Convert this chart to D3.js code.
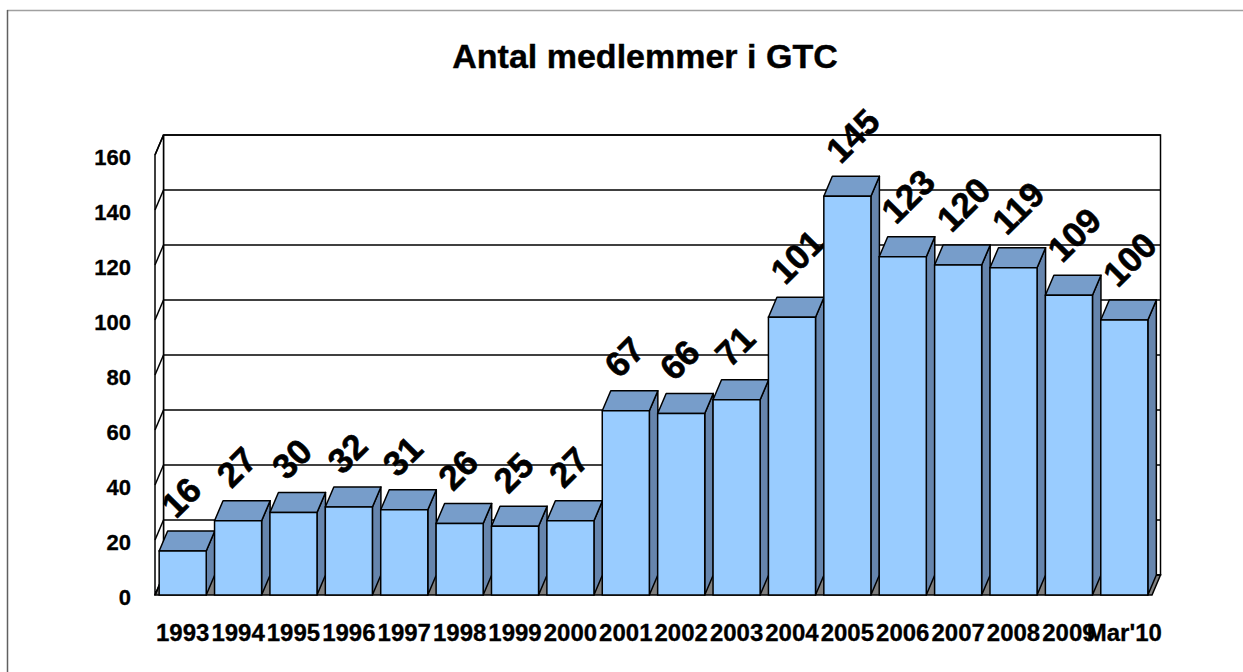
<!DOCTYPE html>
<html>
<head>
<meta charset="utf-8">
<style>
body { margin: 0; background: #fff; }
text { font-family: "Liberation Sans", Arial, sans-serif; font-weight: bold; }
</style>
</head>
<body>
<svg width="1243" height="672"></svg>
<script src="https://d3js.org/d3.v7.min.js"></script>
<script>
var categories = ["1993","1994","1995","1996","1997","1998","1999","2000","2001","2002","2003","2004","2005","2006","2007","2008","2009","Mar'10"];
var members = [16, 27, 30, 32, 31, 26, 25, 27, 67, 66, 71, 101, 145, 123, 120, 119, 109, 100];
var yTicks = [0, 20, 40, 60, 80, 100, 120, 140, 160];

var svg = d3.select("svg");

// depth offset of the 3d look
var dx = 8.5, dy = -20;

var x = d3.scaleBand()
    .domain(categories)
    .range([155, 1152])
    .paddingInner(0.15)
    .paddingOuter(0.075);

var y = d3.scaleLinear()
    .domain([0, 160])
    .range([595, 155]);

var x0 = x.range()[0], x1 = x.range()[1];

// outer frame (only top and left visible)
svg.append("line").attr("x1", 7).attr("x2", 1243).attr("y1", 10.5).attr("y2", 10.5)
    .attr("stroke", "#a0a0a0").attr("stroke-width", 1.5);
svg.append("line").attr("x1", 7.5).attr("x2", 7.5).attr("y1", 10).attr("y2", 672)
    .attr("stroke", "#606060").attr("stroke-width", 1.5);

// title
svg.append("text")
    .attr("x", 645).attr("y", 68)
    .attr("text-anchor", "middle")
    .style("font-size", "34px")
    .attr("stroke", "#000").attr("stroke-width", 0.4)
    .text("Antal medlemmer i GTC");

var walls = svg.append("g");

// back wall
walls.append("rect")
    .attr("x", x0 + dx).attr("y", y(160) + dy)
    .attr("width", x1 - x0).attr("height", y(0) - y(160))
    .attr("fill", "#fff").attr("stroke", "#000").attr("stroke-width", 1.5);

// floor
walls.append("path")
    .attr("d", "M" + x0 + "," + y(0) + "L" + x1 + "," + y(0) +
               "L" + (x1 + dx) + "," + (y(0) + dy) + "L" + (x0 + dx) + "," + (y(0) + dy) + "Z")
    .attr("fill", "#808080").attr("stroke", "#000").attr("stroke-width", 1.5);

// left side wall
walls.append("path")
    .attr("d", "M" + x0 + "," + y(0) + "L" + x0 + "," + y(160) +
               "L" + (x0 + dx) + "," + (y(160) + dy) + "L" + (x0 + dx) + "," + (y(0) + dy) + "Z")
    .attr("fill", "#fff").attr("stroke", "#000").attr("stroke-width", 1.5);

// gridlines on back wall and left wall
yTicks.forEach(function(t) {
  walls.append("line")
      .attr("x1", x0 + dx).attr("x2", x1 + dx)
      .attr("y1", y(t) + dy).attr("y2", y(t) + dy)
      .attr("stroke", "#000").attr("stroke-width", 1.5);
  walls.append("line")
      .attr("x1", x0).attr("x2", x0 + dx)
      .attr("y1", y(t)).attr("y2", y(t) + dy)
      .attr("stroke", "#000").attr("stroke-width", 1.5);
});

// y tick labels
svg.append("g").selectAll("text")
    .data(yTicks)
    .enter().append("text")
      .attr("x", 131)
      .attr("y", function(d) { return y(d) + 2; })
      .attr("text-anchor", "end")
      .attr("dominant-baseline", "central")
      .style("font-size", "22px")
      .attr("stroke", "#000").attr("stroke-width", 0.3)
      .text(function(d) { return d; });

// bars
var data = categories.map(function(c, i) { return {cat: c, value: members[i]}; });

var bars = svg.append("g").selectAll("g")
    .data(data)
    .enter().append("g");

bars.append("path")  // side
    .attr("d", function(d) {
      var r = x(d.cat) + x.bandwidth(), t = y(d.value), b = y(0);
      return "M" + r + "," + b + "L" + r + "," + t + "L" + (r + dx) + "," + (t + dy) +
             "L" + (r + dx) + "," + (b + dy) + "Z";
    })
    .attr("fill", "#6685ad").attr("stroke", "#000").attr("stroke-width", 1.5)
    .attr("stroke-linejoin", "round");

bars.append("path")  // top
    .attr("d", function(d) {
      var l = x(d.cat), r = l + x.bandwidth(), t = y(d.value);
      return "M" + l + "," + t + "L" + r + "," + t + "L" + (r + dx) + "," + (t + dy) +
             "L" + (l + dx) + "," + (t + dy) + "Z";
    })
    .attr("fill", "#779dca").attr("stroke", "#000").attr("stroke-width", 1.5)
    .attr("stroke-linejoin", "round");

bars.append("rect")  // front
    .attr("x", function(d) { return x(d.cat); })
    .attr("y", function(d) { return y(d.value); })
    .attr("width", x.bandwidth())
    .attr("height", function(d) { return y(0) - y(d.value); })
    .attr("fill", "#99ccff").attr("stroke", "#000").attr("stroke-width", 1.5);

// value labels, rotated
bars.append("text")
    .attr("transform", function(d) {
      var cx = x(d.cat) + x.bandwidth() / 2 + dx - 24;
      var cy = y(d.value) + dy - 20;
      return "translate(" + cx + "," + cy + ") rotate(-45)";
    })
    .attr("text-anchor", "start")
    .attr("dominant-baseline", "central")
    .style("font-size", "35px")
    .attr("stroke", "#000").attr("stroke-width", 0.6)
    .text(function(d) { return d.value; });

// x labels
svg.append("g").selectAll("text")
    .data(categories)
    .enter().append("text")
      .attr("x", function(d) { return x(d) + x.bandwidth() / 2; })
      .attr("y", 641)
      .attr("text-anchor", "middle")
      .style("font-size", "24px")
      .attr("stroke", "#000").attr("stroke-width", 0.3)
      .text(function(d) { return d; });
</script>
</body>
</html>
